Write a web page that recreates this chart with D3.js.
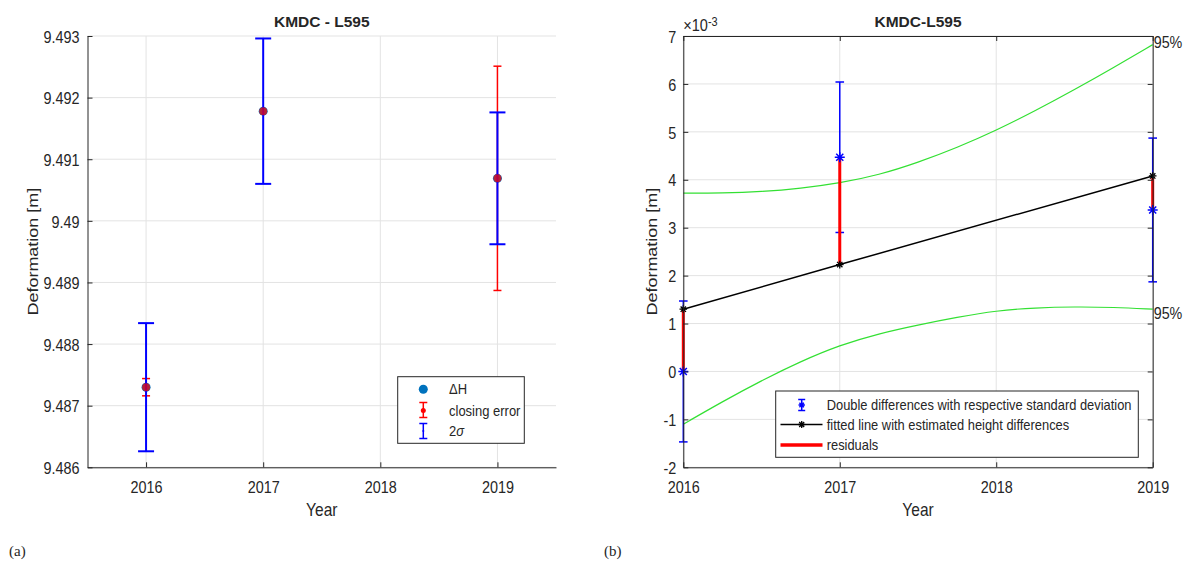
<!DOCTYPE html>
<html>
<head>
<meta charset="utf-8">
<script src="https://cdn.jsdelivr.net/npm/d3@7"></script>
<style>
  html, body { margin: 0; padding: 0; background: #fff; }
  svg { display: block; }
  text { font-family: "Liberation Sans", Arial, Helvetica, sans-serif; fill: #262626; }
</style>
</head>
<body>
<svg id="chart" width="1184" height="562"></svg>
<script>
// ---------------- DATA ----------------
// Panel (a)
const yearsA = [2016, 2017, 2019];
const deltaH = [9.48730, 9.49178, 9.49069];          // ΔH [m]
const twoSigma = [0.00104, 0.00118, 0.00107];        // 2σ half-lengths [m]
const closingError = [0.00014, 0.00000, 0.00182];    // closing error half-lengths [m]
const xTicksA = [2016, 2017, 2018, 2019];
const yTicksA = [9.486, 9.487, 9.488, 9.489, 9.49, 9.491, 9.492, 9.493];
const legendA = ["ΔH", "closing error", "2σ"];

// Panel (b)  (values ×10^-3 m)
const yearsB = [2016, 2017, 2019];
const doubleDiff = [0.00, 4.47, 3.37];
const stdDev = [1.47, 1.57, 1.50];
const fitted = [1.30, 2.23, 4.08];
const bandYears = [2016, 2016.25, 2016.5, 2016.75, 2017, 2017.25, 2017.5, 2017.75, 2018, 2018.25, 2018.5, 2018.75, 2019];
const upper95 = [3.72, 3.72, 3.75, 3.82, 3.93, 4.10, 4.36, 4.67, 5.03, 5.44, 5.88, 6.34, 6.82];
const lower95 = [-1.10, -0.63, -0.19, 0.21, 0.55, 0.79, 0.97, 1.13, 1.27, 1.33, 1.35, 1.34, 1.30];
const xTicksB = [2016, 2017, 2018, 2019];
const yTicksB = [-2, -1, 0, 1, 2, 3, 4, 5, 6, 7];
const legendB = ["Double differences with respective standard deviation",
                 "fitted line with estimated height differences",
                 "residuals"];

// ---------------- HELPERS ----------------
const svg = d3.select("#chart");
const AX = "#262626", GRID = "#e3e3e3", BLUE = "#0000ff", RED = "#ff0000", MBLUE = "#0072BD";

function label(g, x, y, str, o = {}) {
  const t = g.append("text")
    .attr("transform", `translate(${x},${y}) scale(1,${o.sy || 1})${o.rot ? " rotate(" + o.rot + ")" : ""}`)
    .attr("text-anchor", o.anchor || "start")
    .style("font-size", (o.size || 14) + "px")
    .style("font-weight", o.bold ? "bold" : "normal")
    .text(str);
  if (o.family) t.style("font-family", o.family);
  if (o.dy) t.attr("dy", o.dy);
  return t;
}
function stretchAxisText(g, sy, size) {
  g.selectAll("text").each(function () {
    const t = d3.select(this);
    const x = +t.attr("x") || 0, y = +t.attr("y") || 0;
    t.attr("transform", `translate(${x},${y}) scale(1,${sy})`).attr("x", 0).attr("y", 0)
     .style("font-size", size + "px").attr("fill", AX);
  });
  g.selectAll("path, line").attr("stroke", AX);
  g.attr("font-family", null).attr("font-size", null);
}
function asterisk(g, cx, cy, r, color, w) {
  const d = r * 0.7071;
  const p = `M${cx},${cy - r}L${cx},${cy + r}M${cx - r},${cy}L${cx + r},${cy}` +
            `M${cx - d},${cy - d}L${cx + d},${cy + d}M${cx - d},${cy + d}L${cx + d},${cy - d}`;
  g.append("path").attr("d", p).attr("stroke", color).attr("stroke-width", w).attr("fill", "none");
}
function errbar(g, x, y0, y1, cap, color, w) {
  g.append("line").attr("x1", x).attr("x2", x).attr("y1", y0).attr("y2", y1)
    .attr("stroke", color).attr("stroke-width", w);
  [y0, y1].forEach(y => g.append("line").attr("x1", x - cap).attr("x2", x + cap).attr("y1", y).attr("y2", y)
    .attr("stroke", color).attr("stroke-width", w));
}

// ---------------- PANEL (a) ----------------
const L = { left: 87.5, right: 556, top: 36, bottom: 467.3 };
const xA = d3.scaleLinear([2015.5, 2019.5], [L.left, L.right]);
const yA = d3.scaleLinear([9.486, 9.493], [L.bottom, L.top]);
const gA = svg.append("g");

// grid
gA.append("g").selectAll("line").data(yTicksA).join("line")
  .attr("x1", L.left).attr("x2", L.right).attr("y1", d => yA(d)).attr("y2", d => yA(d))
  .attr("stroke", GRID).attr("stroke-width", 1);
gA.append("g").selectAll("line").data(xTicksA).join("line")
  .attr("x1", d => xA(d)).attr("x2", d => xA(d)).attr("y1", L.top).attr("y2", L.bottom)
  .attr("stroke", GRID).attr("stroke-width", 1);

// axes
const axA_x = gA.append("g").attr("transform", `translate(0,${L.bottom})`)
  .call(d3.axisBottom(xA).tickValues(xTicksA).tickFormat(d3.format("d")).tickSizeInner(-5).tickSizeOuter(0).tickPadding(13));
stretchAxisText(axA_x, 1.2, 14.4);
const axA_y = gA.append("g").attr("transform", `translate(${L.left},0)`)
  .call(d3.axisLeft(yA).tickValues(yTicksA).tickFormat(d => String(d)).tickSizeInner(-5).tickSizeOuter(0).tickPadding(8));
stretchAxisText(axA_y, 1.2, 14.4);
axA_y.selectAll("text").attr("dy", "0.36em");

// marks
yearsA.forEach((yr, i) => {
  const x = xA(yr);
  gA.append("circle").attr("cx", x).attr("cy", yA(deltaH[i])).attr("r", 4.5).attr("fill", MBLUE);
  if (closingError[i] > 0)
    errbar(gA, x, yA(deltaH[i] + closingError[i]), yA(deltaH[i] - closingError[i]), 4, RED, 1.5);
  errbar(gA, x, yA(deltaH[i] + twoSigma[i]), yA(deltaH[i] - twoSigma[i]), 8, BLUE, 2);
  gA.append("circle").attr("cx", x).attr("cy", yA(deltaH[i])).attr("r", 4).attr("fill", RED).attr("opacity", 0.7);
});

// title & labels
label(gA, (L.left + L.right) / 2, 26.5, "KMDC - L595", { anchor: "middle", size: 15.5, bold: true });
label(gA, (L.left + L.right) / 2, 516, "Year", { anchor: "middle", size: 15.5, sy: 1.2 });
label(gA, 33, (L.top + L.bottom) / 2, "Deformation [m]", { anchor: "middle", size: 15, sy: 1.2, rot: -90, dy: "0.35em" });
label(gA, 9, 556, "(a)", { size: 15, family: "'Liberation Serif', 'DejaVu Serif', serif" });

// legend (a)
const lgA = gA.append("g");
lgA.append("rect").attr("x", 397.7).attr("y", 376.7).attr("width", 126.6).attr("height", 66.6)
  .attr("fill", "#fff").attr("stroke", AX).attr("stroke-width", 1);
const lgAy = [389.3, 410.5, 431];
lgA.append("circle").attr("cx", 423.3).attr("cy", lgAy[0]).attr("r", 4.5).attr("fill", MBLUE);
errbar(lgA, 423.3, lgAy[1] - 8, lgAy[1] + 7, 4, RED, 1.5);
lgA.append("circle").attr("cx", 423.3).attr("cy", lgAy[1]).attr("r", 2.5).attr("fill", RED);
errbar(lgA, 423.3, lgAy[2] - 7.5, lgAy[2] + 7.5, 4, BLUE, 1.5);
lgA.append("circle").attr("cx", 423.3).attr("cy", lgAy[2]).attr("r", 1).attr("fill", BLUE);
label(lgA, 449, lgAy[0], legendA[0], { size: 13, sy: 1.08, dy: "0.36em" });
label(lgA, 449, lgAy[1], legendA[1], { size: 13, sy: 1.08, dy: "0.36em" });
const sg = label(lgA, 449, lgAy[2], "", { size: 13, sy: 1.08, dy: "0.36em" });
sg.append("tspan").text("2");
sg.append("tspan").style("font-style", "italic").text("σ");

// ---------------- PANEL (b) ----------------
const R = { left: 683.3, right: 1152.7, top: 36, bottom: 467.3 };
const xB = d3.scaleLinear([2016, 2019], [R.left, R.right]);
const yB = d3.scaleLinear([-2, 7], [R.bottom, R.top]);
const gB = svg.append("g");

gB.append("g").selectAll("line").data(yTicksB).join("line")
  .attr("x1", R.left).attr("x2", R.right).attr("y1", d => yB(d)).attr("y2", d => yB(d))
  .attr("stroke", GRID).attr("stroke-width", 1);
gB.append("g").selectAll("line").data(xTicksB).join("line")
  .attr("x1", d => xB(d)).attr("x2", d => xB(d)).attr("y1", R.top).attr("y2", R.bottom)
  .attr("stroke", GRID).attr("stroke-width", 1);

// confidence band
const lineB = d3.line().x(d => xB(d[0])).y(d => yB(d[1])).curve(d3.curveBasis);
gB.append("path").attr("d", lineB(bandYears.map((y, i) => [y, upper95[i]])))
  .attr("fill", "none").attr("stroke", "#33e033").attr("stroke-width", 1.2);
gB.append("path").attr("d", lineB(bandYears.map((y, i) => [y, lower95[i]])))
  .attr("fill", "none").attr("stroke", "#33e033").attr("stroke-width", 1.2);

// blue error bars
yearsB.forEach((yr, i) => {
  errbar(gB, xB(yr), yB(doubleDiff[i] + stdDev[i]), yB(doubleDiff[i] - stdDev[i]), 4.3, BLUE, 1.5);
});
// residuals
yearsB.forEach((yr, i) => {
  gB.append("line").attr("x1", xB(yr)).attr("x2", xB(yr))
    .attr("y1", yB(doubleDiff[i])).attr("y2", yB(fitted[i]))
    .attr("stroke", RED).attr("stroke-width", 3);
});
// fitted line
gB.append("path").attr("d", d3.line().x((d, i) => xB(yearsB[i])).y(d => yB(d))(fitted))
  .attr("fill", "none").attr("stroke", "#000").attr("stroke-width", 1.5);
yearsB.forEach((yr, i) => asterisk(gB, xB(yr), yB(fitted[i]), 3.8, "#000", 1.3));
yearsB.forEach((yr, i) => asterisk(gB, xB(yr), yB(doubleDiff[i]), 5, BLUE, 1.5));

// axes
const axB_x = gB.append("g").attr("transform", `translate(0,${R.bottom})`)
  .call(d3.axisBottom(xB).tickValues(xTicksB).tickFormat(d3.format("d")).tickSizeInner(-5).tickSizeOuter(0).tickPadding(13));
stretchAxisText(axB_x, 1.2, 14.4);
const axB_y = gB.append("g").attr("transform", `translate(${R.left},0)`)
  .call(d3.axisLeft(yB).tickValues(yTicksB).tickFormat(d => String(d)).tickSizeInner(-5).tickSizeOuter(0).tickPadding(7));
stretchAxisText(axB_y, 1.2, 14.4);
axB_y.selectAll("text").attr("dy", "0.36em");
const axB_t = gB.append("g").attr("transform", `translate(0,${R.top})`)
  .call(d3.axisTop(xB).tickValues(xTicksB).tickFormat("").tickSizeInner(-5).tickSizeOuter(0));
stretchAxisText(axB_t, 1, 14);
const axB_r = gB.append("g").attr("transform", `translate(${R.right},0)`)
  .call(d3.axisRight(yB).tickValues(yTicksB).tickFormat("").tickSizeInner(-5).tickSizeOuter(0));
stretchAxisText(axB_r, 1, 14);

// exponent label
const ex = label(gB, R.left, 31, "", { size: 14.5, sy: 1.1 });
ex.append("tspan").text("×10");
ex.append("tspan").attr("dy", "-0.45em").style("font-size", "11px").text("-3");

// 95% labels
label(gB, R.right + 1, yB(upper95[upper95.length - 1]), "95%", { size: 14.3, sy: 1.15, dy: "0.2em" });
label(gB, R.right + 1, yB(lower95[lower95.length - 1]) + 7, "95%", { size: 14.3, sy: 1.15, dy: "0.2em" });

// title & labels
label(gB, (R.left + R.right) / 2, 26.5, "KMDC-L595", { anchor: "middle", size: 15.5, bold: true });
label(gB, (R.left + R.right) / 2, 516, "Year", { anchor: "middle", size: 15.5, sy: 1.2 });
label(gB, 652, (R.top + R.bottom) / 2, "Deformation [m]", { anchor: "middle", size: 15, sy: 1.2, rot: -90, dy: "0.35em" });
label(gB, 604, 556, "(b)", { size: 15, family: "'Liberation Serif', 'DejaVu Serif', serif" });

// legend (b)
const lgB = gB.append("g");
lgB.append("rect").attr("x", 775.7).attr("y", 391).attr("width", 362.6).attr("height", 66.3)
  .attr("fill", "#fff").attr("stroke", AX).attr("stroke-width", 1);
const lgBy = [405, 424.5, 445];
errbar(lgB, 801.7, lgBy[0] - 5.5, lgBy[0] + 5.5, 3.5, BLUE, 1.5);
asterisk(lgB, 801.7, lgBy[0], 3.2, BLUE, 1.3);
lgB.append("line").attr("x1", 780.5).attr("x2", 822.5).attr("y1", lgBy[1]).attr("y2", lgBy[1])
  .attr("stroke", "#000").attr("stroke-width", 1.5);
asterisk(lgB, 801.7, lgBy[1], 3.5, "#000", 1.3);
lgB.append("line").attr("x1", 780.5).attr("x2", 822.5).attr("y1", lgBy[2]).attr("y2", lgBy[2])
  .attr("stroke", RED).attr("stroke-width", 3.5);
legendB.forEach((t, i) => label(lgB, 826.7, lgBy[i], t, { size: 12.9, sy: 1.08, dy: "0.36em" }));
</script>
</body>
</html>
